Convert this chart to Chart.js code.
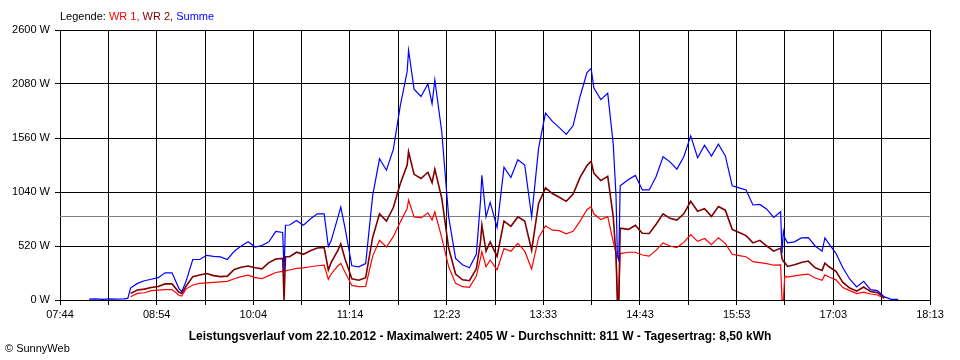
<!DOCTYPE html>
<html>
<head>
<meta charset="utf-8">
<title>Leistungsverlauf</title>
<script src="https://cdn.jsdelivr.net/npm/chart.js@4/dist/chart.umd.min.js"></script>
<style>
  body { margin: 0; background: #fff; }
  #wrap { position: relative; width: 960px; height: 360px; font-family: "Liberation Sans", Arial, sans-serif; }
  #legende { position: absolute; left: 60px; top: 10px; font-size: 11px; color: #000; }
  #titel { position: absolute; left: 0; width: 960px; top: 329px; text-align: center; font-size: 12px; font-weight: bold; color: #000; }
  #copy { position: absolute; left: 5px; top: 342px; font-size: 11px; color: #000; }
</style>
</head>
<body>
<div id="wrap">
  <canvas id="grafik" width="960" height="360"></canvas>
  <div id="legende">Legende: <span style="color:#ff0000">WR 1,</span> <span style="color:#800000">WR 2,</span> <span style="color:#0000ff">Summe</span></div>
  <div id="titel">Leistungsverlauf vom 22.10.2012 - Maximalwert: 2405 W - Durchschnitt: 811 W - Tagesertrag: 8,50 kWh</div>
  <div id="copy">© SunnyWeb</div>
</div>
<script>
// Messzeitpunkte
const zeiten = [
  '08:05','08:10','08:15','08:20','08:25','08:30','08:33',
  '08:35','08:40','08:45','08:50','08:55','09:00','09:05',
  '09:10','09:12','09:15','09:20','09:25','09:30','09:35','09:40','09:45','09:50','09:55',
  '10:00','10:05','10:10','10:15','10:20','10:25','10:26','10:27','10:30','10:35','10:40','10:45','10:50','10:55',
  '10:58','11:00','11:05','11:07','11:10','11:15','11:20','11:25','11:30','11:35','11:40','11:45','11:50','11:55',
  '11:56','12:00','12:05','12:10','12:13','12:15','12:20','12:25','12:30','12:35','12:40','12:45','12:48','12:49','12:52','12:55',
  '13:00','13:05','13:10','13:15','13:20','13:25','13:30','13:35','13:40','13:45','13:50','13:55',
  '14:00','14:05','14:08','14:10','14:15','14:20','14:24','14:26','14:27','14:28','14:29','14:30','14:35','14:40','14:45','14:50','14:55',
  '15:00','15:05','15:10','15:15','15:20','15:25','15:30','15:35','15:40','15:45','15:50','15:55',
  '16:00','16:05','16:10','16:15','16:20','16:25','16:26','16:27','16:28','16:30','16:35','16:40','16:45','16:50','16:55','16:57',
  '17:00','17:05','17:10','17:15','17:20','17:25','17:30','17:35','17:40','17:45','17:50'
];

// Leistung in W
const wr1 = [
  null,null,null,null,null,null,null,
  32,64,70,90,96,100,100,
  45,38,105,145,160,165,170,175,180,205,225,
  240,215,205,235,265,275,275,280,289,305,310,320,330,335,
  199,250,330,353,270,140,128,130,420,575,510,610,750,880,
  963,800,790,840,770,850,600,320,160,128,122,230,400,465,320,385,
  290,495,470,545,470,300,600,715,672,668,638,662,
  760,870,899,828,775,803,560,460,0,0,449,449,460,460,433,422,480,
  550,520,505,555,630,565,592,532,600,545,440,428,
  417,369,360,350,335,339,0,0,230,220,233,242,250,212,190,242,
  222,194,120,90,62,75,58,48,15,null,null
];

const wr2 = [
  null,null,null,null,null,null,null,
  64,96,105,120,130,155,155,
  75,64,130,225,241,255,235,225,230,295,315,
  327,310,300,360,395,400,0,417,417,460,440,475,500,505,
  289,360,480,540,400,205,190,215,600,830,760,890,1120,1300,
  1428,1210,1170,1230,1130,1260,980,500,250,195,186,300,560,720,470,560,
  420,760,710,800,760,480,930,1080,1025,990,950,1020,
  1180,1295,1335,1220,1150,1190,800,420,0,0,690,690,680,720,642,640,730,
  830,786,770,830,950,855,880,805,900,865,680,650,
  620,550,575,520,470,500,400,371,360,323,339,362,375,310,285,355,
  320,275,170,115,85,125,81,71,20,null,null
];

const summe = [
  8,10,6,10,8,10,15,
  115,160,185,200,215,262,262,
  110,80,175,390,390,430,420,415,390,470,520,
  560,510,525,560,660,650,280,720,722,765,720,780,830,830,
  514,570,800,895,700,330,320,350,1000,1360,1250,1450,1870,2200,
  2405,2030,1960,2080,1890,2120,1620,800,400,340,310,440,950,1200,800,940,
  700,1280,1180,1350,1300,800,1460,1800,1720,1660,1595,1680,
  1960,2190,2230,2040,1930,1990,1500,1000,420,385,1100,1110,1160,1200,1060,1060,1190,
  1380,1330,1260,1380,1580,1370,1490,1385,1500,1390,1100,1080,
  1060,915,920,875,795,850,450,660,600,550,560,598,600,520,470,598,
  540,450,310,200,125,180,100,90,30,6,6
];

const achsenBeschriftung = ['07:44','08:54','10:04','11:14','12:23','13:33','14:43','15:53','17:03','18:13'];
const durchschnitt = 811;

const inMinuten = s => { const [h, m] = s.split(':').map(Number); return h * 60 + m; };
const xMin = inMinuten(achsenBeschriftung[0]);
const xMax = inMinuten(achsenBeschriftung[achsenBeschriftung.length - 1]);
const punkte = werte => zeiten.map((z, i) => ({ x: inMinuten(z), y: werte[i] }));

const mittelLinie = {
  id: 'mittelLinie',
  beforeDatasetsDraw(chart) {
    const { ctx, chartArea, scales } = chart;
    const y = Math.round(scales.y.getPixelForValue(durchschnitt)) + 0.5;
    ctx.save();
    ctx.strokeStyle = '#808080';
    ctx.lineWidth = 1;
    ctx.beginPath();
    ctx.moveTo(chartArea.left, y);
    ctx.lineTo(chartArea.right, y);
    ctx.stroke();
    ctx.restore();
  }
};

const schrift = { family: '"Liberation Sans", Arial, sans-serif', size: 11 };

new Chart(document.getElementById('grafik'), {
  type: 'line',
  data: {
    datasets: [
      { label: 'Summe', data: punkte(summe), borderColor: '#0000ff', borderWidth: 1.2 },
      { label: 'WR 2', data: punkte(wr2), borderColor: '#800000', borderWidth: 1.6 },
      { label: 'WR 1', data: punkte(wr1), borderColor: '#ff0000', borderWidth: 1.2 }
    ]
  },
  options: {
    responsive: false,
    animation: false,
    spanGaps: false,
    elements: { point: { radius: 0 }, line: { tension: 0 } },
    layout: { padding: { top: 30, right: 30, left: 0, bottom: 0 } },
    plugins: { legend: { display: false }, tooltip: { enabled: false } },
    scales: {
      x: {
        type: 'linear',
        min: xMin,
        max: xMax,
        afterBuildTicks: axis => {
          const n = (achsenBeschriftung.length - 1) * 2;
          axis.ticks = Array.from({ length: n + 1 }, (_, i) => ({ value: xMin + i * (xMax - xMin) / n }));
        },
        afterFit: axis => { axis.height = 60; },
        ticks: {
          autoSkip: false, maxRotation: 0, color: '#000', font: schrift, padding: 3,
          callback: (v, i) => (i % 2 === 0 ? achsenBeschriftung[i / 2] : '')
        },
        grid: { color: '#000', lineWidth: 1, tickLength: 5 },
        border: { color: '#000' }
      },
      y: {
        min: 0,
        max: 2600,
        afterFit: axis => { axis.width = 60; },
        ticks: { stepSize: 520, color: '#000', font: schrift, padding: 5, callback: v => v + ' W' },
        grid: { color: '#000', lineWidth: 1, tickLength: 5 },
        border: { color: '#000' }
      }
    }
  },
  plugins: [mittelLinie]
});
</script>
</body>
</html>
